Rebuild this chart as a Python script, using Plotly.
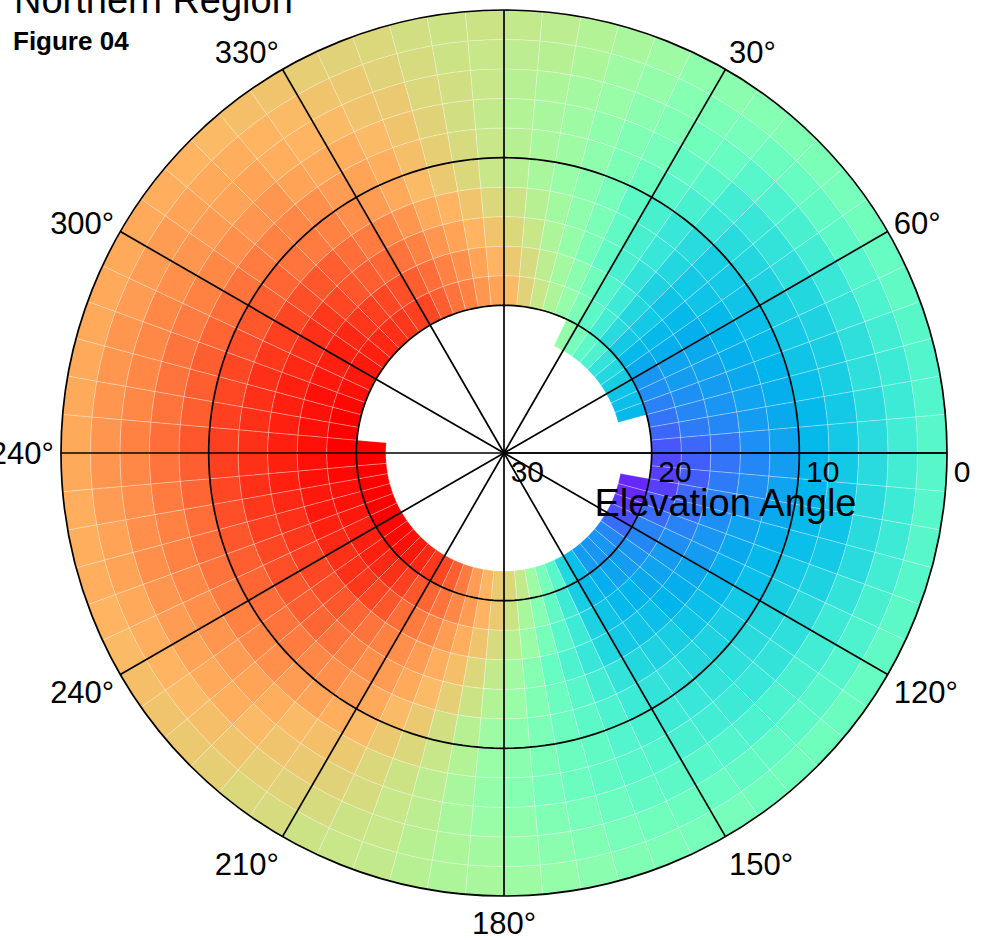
import math
import plotly.graph_objects as go

# ---------------- data ----------------
bin_width = 5
theta_centers = [5 * k + 2.5 for k in range(72)]
ring_step = 2  # elevation degrees per ring

ring0 = [.63,.62,.60,.58,.56,.53,.52,.51,.50,.49,.48,.47,
         .45,.44,.42,.41,.41,.42,.42,.42,.42,.42,.43,.44,
         .45,.46,.47,.47,.47,.48,.48,.49,.50,.52,.54,.56,
         .58,.59,.61,.63,.64,.65,.67,.68,.70,.71,.72,.73,
         .74,.75,.76,.76,.76,.77,.77,.77,.77,.77,.77,.77,
         .77,.76,.75,.74,.73,.72,.70,.69,.68,.66,.65,.65]
ring1 = [.62,.61,.59,.56,.54,.51,.49,.48,.46,.45,.44,.43,
         .41,.40,.38,.37,.37,.38,.38,.37,.37,.38,.39,.40,
         .41,.42,.43,.44,.44,.45,.46,.47,.48,.50,.52,.54,
         .57,.59,.61,.64,.65,.67,.69,.70,.72,.73,.74,.75,
         .76,.77,.78,.78,.79,.80,.80,.80,.80,.80,.79,.79,
         .79,.78,.77,.76,.75,.74,.72,.71,.69,.67,.65,.64]
ring2 = [.61,.59,.57,.55,.52,.50,.47,.45,.42,.40,.39,.38,
         .36,.35,.34,.34,.33,.33,.33,.33,.33,.33,.35,.37,
         .38,.39,.40,.40,.41,.42,.43,.44,.46,.48,.50,.53,
         .55,.58,.62,.64,.67,.69,.71,.72,.74,.76,.77,.78,
         .79,.80,.81,.81,.81,.82,.83,.82,.82,.82,.82,.81,
         .80,.79,.78,.78,.76,.75,.74,.72,.71,.68,.66,.64]
ring3 = [.60,.58,.56,.53,.50,.48,.44,.42,.38,.36,.35,.34,
         .32,.31,.30,.30,.29,.29,.29,.28,.28,.29,.31,.33,
         .34,.35,.36,.37,.38,.39,.41,.42,.44,.46,.48,.51,
         .54,.58,.62,.65,.68,.71,.73,.74,.76,.78,.79,.80,
         .81,.82,.83,.83,.84,.85,.86,.85,.85,.85,.84,.83,
         .82,.81,.80,.80,.78,.77,.76,.74,.72,.69,.66,.63]
ring4 = [.61,.58,.56,.53,.49,.46,.42,.39,.36,.33,.32,.31,
         .30,.29,.28,.27,.26,.26,.25,.25,.26,.27,.29,.30,
         .32,.33,.34,.35,.36,.37,.39,.41,.44,.46,.49,.52,
         .55,.60,.64,.68,.71,.74,.76,.78,.79,.81,.82,.83,
         .84,.85,.86,.86,.87,.88,.89,.88,.88,.88,.87,.86,
         .85,.84,.83,.82,.81,.79,.78,.76,.73,.70,.67,.64]
ring5 = [.61,.58,.55,.52,.48,.43,.39,.36,.33,.30,.29,.28,
         .27,.26,.25,.24,.23,.22,.21,.22,.23,.24,.26,.27,
         .29,.30,.31,.32,.34,.35,.37,.40,.43,.46,.49,.52,
         .56,.61,.66,.71,.74,.77,.79,.81,.82,.84,.85,.86,
         .87,.88,.89,.90,.91,.92,.92,.92,.91,.91,.90,.89,
         .88,.87,.85,.84,.83,.81,.79,.77,.74,.71,.68,.64]
ring6 = [.65,.61,.57,.53,.49,.44,.39,.36,.32,.29,.28,.26,
         .25,.24,.23,.22,.21,.19,.18,.19,.20,.22,.23,.24,
         .26,.27,.28,.30,.31,.32,.35,.38,.42,.46,.50,.55,
         .60,.65,.70,.74,.77,.79,.81,.83,.85,.87,.88,.89,
         .90,.91,.92,.93,.94,.94,.94,.94,.94,.94,.93,.92,
         .91,.90,.89,.88,.86,.84,.82,.80,.77,.75,.72,.68]
ring7 = [.68,.64,.59,.54,.49,.44,.39,.35,.31,.28,.26,.24,
         .23,.22,.21,.20,.18,.15,.15,.16,.17,.19,.20,.21,
         .23,.24,.25,.27,.28,.29,.32,.36,.40,.45,.51,.57,
         .63,.68,.73,.76,.79,.81,.83,.85,.87,.89,.90,.91,
         .92,.93,.94,.95,.96,.96,.96,.96,.96,.96,.95,.94,
         .94,.93,.91,.89,.88,.87,.85,.83,.80,.78,.75,.72]
ring8 = [.71,.67,.62,.57,.52,.47,.41,.37,.32,.29,.26,.24,
         .22,.21,.19,.18,.16,.13,.12,.12,.13,.15,.17,.19,
         .21,.22,.23,.25,.26,.28,.31,.37,.42,.48,.55,.61,
         .67,.72,.76,.79,.82,.84,.86,.89,.91,.93,.94,.94,
         .95,.96,.97,.97,.98,.98,.98,.98,.98,.98,.97,.96,
         .96,.95,.93,.92,.91,.90,.88,.86,.83,.81,.78,.75]
ring9 = [.74,.69,.64,.59,.54,.49,.43,.38,.33,.29,.26,.23,
         .20,.19,.17,.15,.13,.11,.09,.08,.08,.11,.14,.17,
         .18,.20,.21,.22,.24,.26,.30,.37,.44,.51,.58,.65,
         .71,.75,.79,.82,.85,.87,.89,.92,.94,.95,.96,.96,
         .96,.97,.98,.98,.99,1.0,1.0,1.0,1.0,.99,.98,.97,
         .97,.96,.95,.94,.93,.92,.91,.88,.85,.83,.80,.78]
ring10 = [None,None,None,None,None,.54,.48,.43,.40,.35,.32,.30,
          .28,.27,.26,None,None,None,None,None,.05,.05,.07,.10,
          .14,.18,.20,.20,.21,.27,.32,.42,.48,.56,.63,.68,
          .71,.75,.79,.84,.88,.91,.93,.95,.97,.98,.99,.99,
          1.0,1.0,1.0,1.0,1.0,1.0,1.0,None,None,None,None,None,
          None,None,None,None,None,None,None,None,None,None,None,None]
rings = [ring0, ring1, ring2, ring3, ring4, ring5, ring6, ring7, ring8, ring9, ring10]

radial_ticks = [0, 10, 20, 30]
radial_tick_labels = ["0", "10", "20", "30"]
radial_axis_theta = 90
angular_ticks = list(range(0, 360, 30))
angular_labels = ["", "30°", "60°", "", "120°", "150°", "180°", "210°", "240°", "240°", "300°", "330°"]
grid_circles = [10, 20]

# ---------------- style ----------------
def mpl_rainbow(x):
    r = min(1.0, abs(2 * x - 0.5))
    g = math.sin(math.pi * x)
    b = math.cos(math.pi * x / 2)
    return "rgb(%d,%d,%d)" % (round(255 * r), round(255 * g), round(255 * b))

colorscale = [[i / 40, mpl_rainbow(i / 40)] for i in range(41)]
FONT = "Liberation Sans, Arial, Helvetica, sans-serif"

fig = go.Figure()
for i, vals in enumerate(rings):
    th = [t for t, v in zip(theta_centers, vals) if v is not None]
    cv = [v for v in vals if v is not None]
    fig.add_trace(go.Barpolar(
        theta=th, r=[ring_step] * len(th), base=[ring_step * i] * len(th),
        width=[bin_width] * len(th),
        marker=dict(color=cv, colorscale=colorscale, cmin=0, cmax=1,
                    line=dict(color="rgba(255,255,255,0.45)", width=0.6)),
        showlegend=False, hoverinfo="skip"))

# grid overlay drawn above the bars
circ_theta = list(range(0, 361, 2))
for rc in grid_circles:
    fig.add_trace(go.Scatterpolar(theta=circ_theta, r=[rc] * len(circ_theta), mode="lines",
                                  line=dict(color="black", width=1.7),
                                  showlegend=False, hoverinfo="skip"))
sp_t, sp_r = [], []
for a in angular_ticks:
    sp_t += [a, a, None]
    sp_r += [0, 30, None]
fig.add_trace(go.Scatterpolar(theta=sp_t, r=sp_r, mode="lines",
                              line=dict(color="black", width=1.7),
                              showlegend=False, hoverinfo="skip"))

# radial tick labels, placed on the radial scale just below/right of each tick
fig.add_trace(go.Scatterpolar(
    r=radial_ticks, theta=[radial_axis_theta] * len(radial_ticks), mode="markers+text",
    text=radial_tick_labels, textposition="bottom right",
    textfont=dict(size=30, family=FONT, color="black"),
    marker=dict(size=9, color="rgba(0,0,0,0)"),
    showlegend=False, hoverinfo="skip", cliponaxis=False))

cx, cy, rad = 504, 453, 443
W, H = 985, 940
fig.update_layout(
    width=W, height=H,
    margin=dict(l=0, r=0, t=0, b=0, autoexpand=False),
    paper_bgcolor="white", plot_bgcolor="white",
    font=dict(family=FONT, color="black"),
    polar=dict(
        domain=dict(x=[(cx - rad) / W, (cx + rad) / W], y=[(H - cy - rad) / H, (H - cy + rad) / H]),
        bgcolor="white", barmode="overlay",
        radialaxis=dict(range=[30, 0], tickmode="array", tickvals=radial_ticks,
                        ticktext=["\u00a0"] * len(radial_ticks), angle=0, side="clockwise",
                        showgrid=False, showline=True, linecolor="black", linewidth=1.7,
                        ticks="", tickfont=dict(size=30, family=FONT),
                        title=dict(text="Elevation Angle", font=dict(size=38, family=FONT, color="black"))),
        angularaxis=dict(rotation=90, direction="clockwise", tickmode="array",
                         tickvals=angular_ticks, ticktext=angular_labels,
                         showgrid=False, showline=True, linecolor="black",
                         linewidth=1.7, ticks="", tickfont=dict(size=31, family=FONT)),
    ),
    annotations=[
        dict(text="Northern Region", xref="paper", yref="paper", x=12 / W, y=1.0,
             xanchor="left", yanchor="middle", showarrow=False,
             font=dict(size=38, family=FONT)),
        dict(text="<b>Figure 04</b>", xref="paper", yref="paper", x=11 / W, y=1 - 41 / H,
             xanchor="left", yanchor="middle", showarrow=False,
             font=dict(size=26, family=FONT)),
    ],
)

fig.write_html("out.html")
